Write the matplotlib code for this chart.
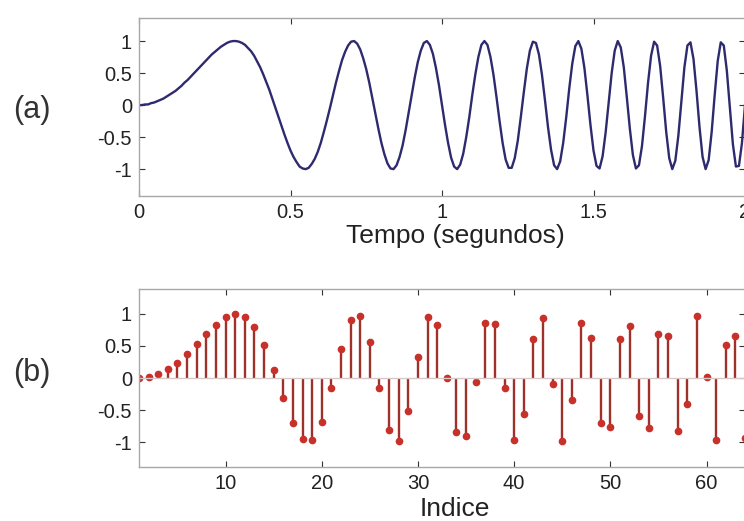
import numpy as np
import matplotlib
matplotlib.use("Agg")
import matplotlib.pyplot as plt

plt.rcParams['font.family'] = ['Liberation Sans', 'DejaVu Sans']

# (a) signal, one value every 0.01 s from 0 to 2 s
tempo = np.linspace(0, 2, 201)
sinal = [
    0.00, 0.00, 0.01, 0.01, 0.03, 0.04, 0.06, 0.08, 0.10, 0.13,
    0.16, 0.19, 0.22, 0.26, 0.30, 0.35, 0.39, 0.44, 0.49, 0.54,
    0.59, 0.64, 0.69, 0.74, 0.79, 0.83, 0.87, 0.91, 0.94, 0.97,
    0.99, 1.00, 1.00, 0.99, 0.97, 0.94, 0.89, 0.84, 0.77, 0.68,
    0.59, 0.48, 0.36, 0.24, 0.10, -0.04, -0.18, -0.32, -0.46, -0.59,
    -0.71, -0.81, -0.89, -0.96, -0.99, -1.00, -0.98, -0.92, -0.84, -0.73,
    -0.59, -0.42, -0.24, -0.05, 0.15, 0.35, 0.53, 0.70, 0.83, 0.93,
    0.99, 1.00, 0.96, 0.87, 0.73, 0.56, 0.35, 0.11, -0.13, -0.37,
    -0.59, -0.77, -0.91, -0.99, -1.00, -0.94, -0.81, -0.63, -0.39, -0.12,
    0.16, 0.43, 0.67, 0.85, 0.97, 1.00, 0.94, 0.80, 0.58, 0.31,
    0.00, -0.31, -0.59, -0.82, -0.96, -1.00, -0.93, -0.76, -0.50, -0.19,
    0.16, 0.48, 0.75, 0.94, 1.00, 0.94, 0.75, 0.47, 0.12, -0.25,
    -0.59, -0.85, -0.98, -0.98, -0.83, -0.56, -0.19, 0.20, 0.57, 0.85,
    0.99, 0.97, 0.79, 0.47, 0.07, -0.35, -0.70, -0.94, -1.00, -0.88,
    -0.59, -0.19, 0.26, 0.65, 0.92, 1.00, 0.88, 0.58, 0.15, -0.31,
    -0.71, -0.95, -0.99, -0.80, -0.43, 0.04, 0.50, 0.85, 1.00, 0.90,
    0.59, 0.12, -0.37, -0.78, -0.99, -0.94, -0.64, -0.17, 0.35, 0.77,
    0.99, 0.93, 0.61, 0.11, -0.42, -0.83, -1.00, -0.87, -0.48, 0.06,
    0.59, 0.93, 0.98, 0.72, 0.22, -0.35, -0.81, -1.00, -0.86, -0.42,
    0.16, 0.69, 0.98, 0.93, 0.54, -0.04, -0.61, -0.96, -0.95, -0.59,
    0.00,
]

# (b) sampled values, index 1..64
indice = np.arange(1, 65)
amostras = [
    0.00, 0.02, 0.06, 0.14, 0.24, 0.37, 0.53, 0.68, 0.83, 0.95,
    1.00, 0.96, 0.80, 0.52, 0.13, -0.31, -0.71, -0.96, -0.97, -0.68,
    -0.15, 0.46, 0.91, 0.97, 0.56, -0.16, -0.81, -0.98, -0.51, 0.33,
    0.95, 0.82, 0.00, -0.84, -0.90, -0.06, 0.86, 0.84, -0.16, -0.97,
    -0.56, 0.61, 0.94, -0.09, -0.99, -0.35, 0.86, 0.62, -0.71, -0.76,
    0.61, 0.81, -0.60, -0.78, 0.68, 0.66, -0.83, -0.41, 0.97, 0.01,
    -0.97, 0.51, 0.66, -0.93,
]

fig = plt.figure(figsize=(7.44, 5.21), dpi=100)
W, H = 744, 521


def eixo(x0, y0, x1, y1):
    return fig.add_axes([x0 / W, 1 - y1 / H, (x1 - x0) / W, (y1 - y0) / H])


def estilo(ax):
    for s in ax.spines.values():
        s.set_color('#a8a8a8')
        s.set_linewidth(1.0)
    ax.tick_params(direction='in', top=True, right=True, length=4,
                   color='#333333', labelsize=14.5, labelcolor='#222222', pad=5)
    ax.set_yticks([-1, -0.5, 0, 0.5, 1])
    ax.set_yticklabels(['-1', '-0.5', '0', '0.5', '1'])


# top panel
ax1 = eixo(139, 18, 745, 196)
ax1.plot(tempo, sinal, color='#2e2a6e', linewidth=1.7)
ax1.set_xlim(0, 2)
ax1.set_ylim(-1.42, 1.36)
ax1.set_xticks([0, 0.5, 1, 1.5, 2])
ax1.set_xticklabels(['0', '0.5', '1', '1.5', '2'])
estilo(ax1)
ax1.set_xlabel('Tempo (segundos)', fontsize=19, color='#222222', va='center')
ax1.xaxis.set_label_coords((455 - 139) / 606, (196 - 236) / 178)

# bottom panel
ax2 = eixo(139, 289, 745, 467)
marcas, linhas, base = ax2.stem(indice, amostras)
plt.setp(linhas, color='#a0302a', linewidth=1.7)
plt.setp(marcas, color='#c8302a', markersize=4.5)
plt.setp(base, color='#d8c8c8', linewidth=1.0)
ax2.set_xlim(1, 64)
ax2.set_ylim(-1.39, 1.39)
ax2.set_xticks([10, 20, 30, 40, 50, 60])
estilo(ax2)
ax2.set_xlabel('Indice', fontsize=19, color='#222222', va='center')
ax2.xaxis.set_label_coords((455 - 139) / 606, (467 - 509) / 178)

fig.text(32 / W, 1 - 110 / H, '(a)', fontsize=22, color='#333333', ha='center', va='center')
fig.text(32 / W, 1 - 373 / H, '(b)', fontsize=22, color='#333333', ha='center', va='center')

fig.savefig('out.png', dpi=100)
